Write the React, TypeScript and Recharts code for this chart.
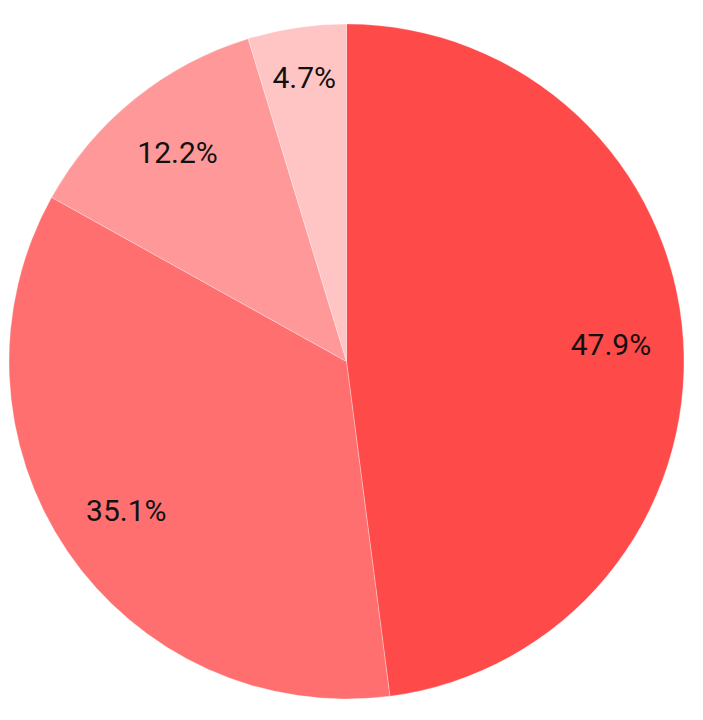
import { PieChart, Pie, Cell } from "recharts";

const names = ["A", "B", "C", "D"];
const shares = [47.9, 35.1, 12.2, 4.7];
const colors = ["#FF4A4A", "#FF6F6F", "#FF9999", "#FFC4C4"];

const data = names.map((name, i) => ({ name, value: shares[i] }));

const RAD = Math.PI / 180;
// small slices push their text further out
const labelRadius = [265, 266, 269, 287];

const renderLabel = (props: any) => {
  const { cx, cy, midAngle, value, index } = props;
  const r = labelRadius[index] ?? 265;
  const x = cx + r * Math.cos(-midAngle * RAD);
  const y = cy + r * Math.sin(-midAngle * RAD);
  return (
    <text x={x} y={y} fill="#111" textAnchor="middle" dominantBaseline="central" fontFamily="Roboto" fontSize={30}>
      {`${Number(value).toFixed(1)}%`}
    </text>
  );
};

export default function App() {
  return (
    <div style={{ position: "absolute", left: 0, top: 0, background: "#fff" }}>
      <PieChart width={703} height={720} margin={{ top: 0, right: 0, bottom: 0, left: 0 }}>
        <Pie
          data={data}
          dataKey="value"
          cx={346.5}
          cy={361.5}
          outerRadius={337.5}
          startAngle={90}
          endAngle={-270}
          stroke="#ffffff"
          strokeWidth={0.6}
          strokeOpacity={0.5}
          label={renderLabel}
          labelLine={false}
          isAnimationActive={false}
        >
          {data.map((d, i) => (
            <Cell key={d.name} fill={colors[i]} />
          ))}
        </Pie>
      </PieChart>
    </div>
  );
}
